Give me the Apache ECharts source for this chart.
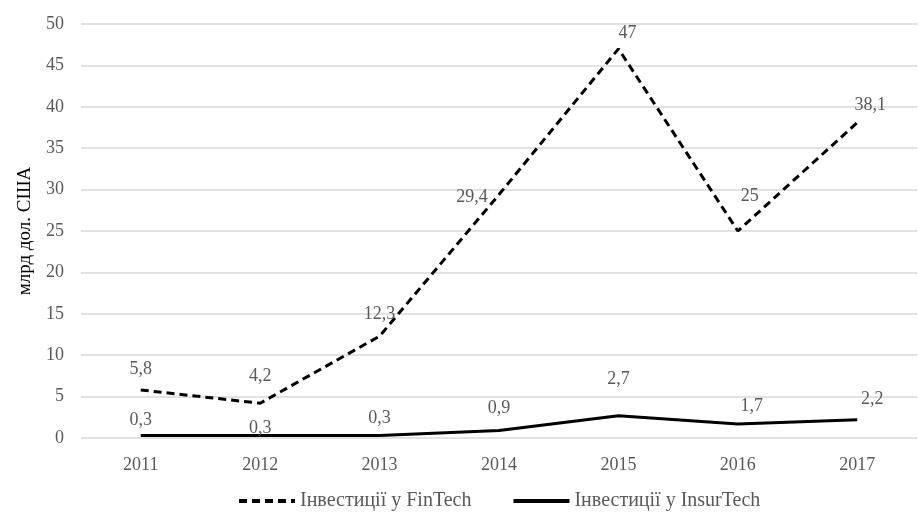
<!DOCTYPE html>
<html>
<head>
<meta charset="utf-8">
<script src="https://cdn.jsdelivr.net/npm/echarts@6/dist/echarts.min.js"></script>
<style>
  html, body { margin: 0; padding: 0; background: #fff; }
  #chart { width: 919px; height: 516px; }
</style>
</head>
<body>
<div id="chart"></div>
<script>
// Investment volumes, billion USD
const years = ['2011', '2012', '2013', '2014', '2015', '2016', '2017'];
const fintech = [5.8, 4.2, 12.3, 29.4, 47, 25, 38.1];
const insurtech = [0.3, 0.3, 0.3, 0.9, 2.7, 1.7, 2.2];
const yTicks = [0, 5, 10, 15, 20, 25, 30, 35, 40, 45, 50];

// Label nudges (px) relative to the default 'top' placement
const fintechLabelShift = [[0, -6], [0, -12], [0, -7], [-27, 18], [9, -1], [12, -20], [13, -2]];
const insurtechLabelShift = [[0, 0], [0, 8], [0, -2], [0, -7], [0, -21], [14, -3], [15, -6]];

const FONT = '"Liberation Serif", "Times New Roman", serif';
const GREY = '#595959';

const fmt = p => String(p.value).replace('.', ',');

const labelStyle = {
  show: true, position: 'top', formatter: fmt,
  color: GREY, fontFamily: FONT, fontSize: 18
};

function shiftLayout(shifts) {
  return params => {
    const s = shifts[params.dataIndex] || [0, 0];
    return { dx: s[0], dy: s[1], hideOverlap: false };
  };
}

const chart = echarts.init(document.getElementById('chart'), null, { renderer: 'canvas' });
chart.setOption({
  animation: false,
  backgroundColor: '#fff',
  grid: { left: 81, right: 2, top: 24, bottom: 78 },
  xAxis: {
    type: 'category',
    data: years,
    boundaryGap: true,
    axisLine: { show: false },
    axisTick: { show: false },
    axisLabel: { color: GREY, fontFamily: FONT, fontSize: 18, margin: 18 }
  },
  yAxis: {
    type: 'value',
    min: yTicks[0],
    max: yTicks[yTicks.length - 1],
    interval: yTicks[1] - yTicks[0],
    name: 'млрд дол. США',
    nameLocation: 'middle',
    nameGap: 46,
    nameTextStyle: { color: '#000', fontFamily: FONT, fontSize: 19 },
    axisLine: { show: false },
    axisTick: { show: false },
    axisLabel: { color: GREY, fontFamily: FONT, fontSize: 18, margin: 17 },
    splitLine: { lineStyle: { color: '#d9d9d9', width: 1.5 } }
  },
  legend: {
    top: 486,
    left: 232,
    itemWidth: 56,
    itemHeight: 14,
    itemGap: 40,
    itemStyle: { opacity: 0 },
    lineStyle: { width: 4 },
    textStyle: { color: GREY, fontFamily: FONT, fontSize: 20 },
    data: [
      { name: 'Інвестиції у FinTech' },
      { name: 'Інвестиції у InsurTech' }
    ]
  },
  series: [
    {
      name: 'Інвестиції у FinTech',
      type: 'line',
      data: fintech,
      symbol: 'circle',
      symbolSize: 2,
      showSymbol: true,
      itemStyle: { color: 'rgba(0,0,0,0)' },
      lineStyle: { color: '#000', width: 3, type: [8, 5] },
      label: labelStyle,
      labelLayout: shiftLayout(fintechLabelShift)
    },
    {
      name: 'Інвестиції у InsurTech',
      type: 'line',
      data: insurtech,
      symbol: 'circle',
      symbolSize: 2,
      showSymbol: true,
      itemStyle: { color: 'rgba(0,0,0,0)' },
      lineStyle: { color: '#000', width: 3 },
      label: labelStyle,
      labelLayout: shiftLayout(insurtechLabelShift)
    }
  ]
});
</script>
</body>
</html>
